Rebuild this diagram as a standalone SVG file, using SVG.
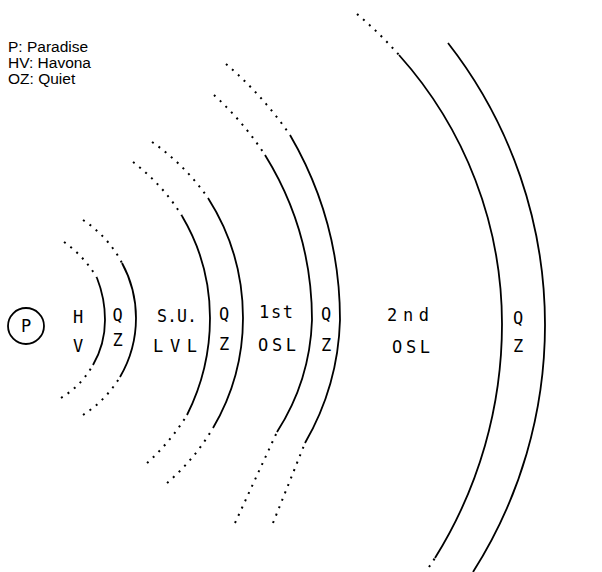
<svg xmlns="http://www.w3.org/2000/svg" width="602" height="572" viewBox="0 0 602 572">
<style>
.bg{fill:#fff}
.sol{fill:none;stroke:#000;stroke-width:1.8}
.dot{fill:none;stroke:#000;stroke-width:2;stroke-dasharray:2 6}
.lg{font-family:"Liberation Sans",Arial,sans-serif;font-size:15.5px;fill:#000}
.lb{font-family:"DejaVu Sans Mono","Liberation Mono",monospace;font-size:17px;fill:#000}
</style>
<rect class="bg" x="0" y="0" width="602" height="572"/>
<g id="legend">
<text class="lg" x="8" y="52">P: Paradise</text>
<text class="lg" x="8" y="68">HV: Havona</text>
<text class="lg" x="8" y="84">OZ: Quiet</text>
</g>
<g id="paradise">
<circle class="sol" cx="26" cy="326" r="18"/>
<text class="lb" x="26" y="332" text-anchor="middle">P</text>
</g>
<g id="arcs">
<path class="sol" d="M97,278 A114,114 0 0 1 105,320 A90,90 0 0 1 93,365"/>
<path class="dot" d="M64,242 A114,114 0 0 1 97,278"/>
<path class="dot" d="M61,398 A90,90 0 0 0 93,365"/>
<path class="sol" d="M122,263 A115,115 0 0 1 136,318 A117,117 0 0 1 120,377"/>
<path class="dot" d="M83,220 A115,115 0 0 1 122,263"/>
<path class="dot" d="M83,415 A117,117 0 0 0 120,377"/>
<path class="sol" d="M182,216 A200,200 0 0 1 210,318 A216,216 0 0 1 187,415"/>
<path class="dot" d="M133,162 A200,200 0 0 1 182,216"/>
<path class="dot" d="M147,463 A216,216 0 0 0 187,415"/>
<path class="sol" d="M208,198 A223,223 0 0 1 243,318 A217,217 0 0 1 213,428"/>
<path class="dot" d="M152,142 A223,223 0 0 1 208,198"/>
<path class="dot" d="M167,483 A217,217 0 0 0 213,428"/>
<path class="sol" d="M265,155 A313,313 0 0 1 312,320 A220,220 0 0 1 277,432"/>
<path class="dot" d="M214,95 A313,313 0 0 1 265,155"/>
<path class="dot" d="M235,523 L277,432"/>
<path class="sol" d="M290,135 A367,367 0 0 1 340,320 A260,260 0 0 1 305,443"/>
<path class="dot" d="M226,64 A367,367 0 0 1 290,135"/>
<path class="dot" d="M273,523 L305,443"/>
<path class="sol" d="M399,55 A403,403 0 0 1 502,324 A442,442 0 0 1 435,558"/>
<path class="dot" d="M357,14 A403,403 0 0 1 399,55"/>
<path class="dot" d="M429,567 L435,558"/>
<path class="sol" d="M448,43 A458,458 0 0 1 545,325 A460,460 0 0 1 473,572"/>
</g>
<g id="havona"><text class="lb" x="78" y="323" text-anchor="middle">H</text><text class="lb" x="78" y="352" text-anchor="middle">V</text></g>
<g id="oz1"><text class="lb" x="117.5" y="321" text-anchor="middle">Q</text><text class="lb" x="117.5" y="346" text-anchor="middle">Z</text></g>
<g id="sulvl"><text class="lb" x="157" y="322" textLength="40" lengthAdjust="spacingAndGlyphs">S.U.</text><text class="lb" x="153" y="352" textLength="44" lengthAdjust="spacing">LVL</text></g>
<g id="oz2"><text class="lb" x="224" y="320" text-anchor="middle">Q</text><text class="lb" x="224" y="350" text-anchor="middle">Z</text></g>
<g id="osl1"><text class="lb" x="259" y="318" textLength="34" lengthAdjust="spacing">1st</text><text class="lb" x="258" y="351" textLength="38" lengthAdjust="spacing">OSL</text></g>
<g id="oz3"><text class="lb" x="326" y="320" text-anchor="middle">Q</text><text class="lb" x="326" y="351" text-anchor="middle">Z</text></g>
<g id="osl2"><text class="lb" x="387" y="321" textLength="42" lengthAdjust="spacing">2nd</text><text class="lb" x="392" y="353" textLength="38" lengthAdjust="spacing">OSL</text></g>
<g id="oz4"><text class="lb" x="518" y="324" text-anchor="middle">Q</text><text class="lb" x="518" y="352" text-anchor="middle">Z</text></g>
</svg>
